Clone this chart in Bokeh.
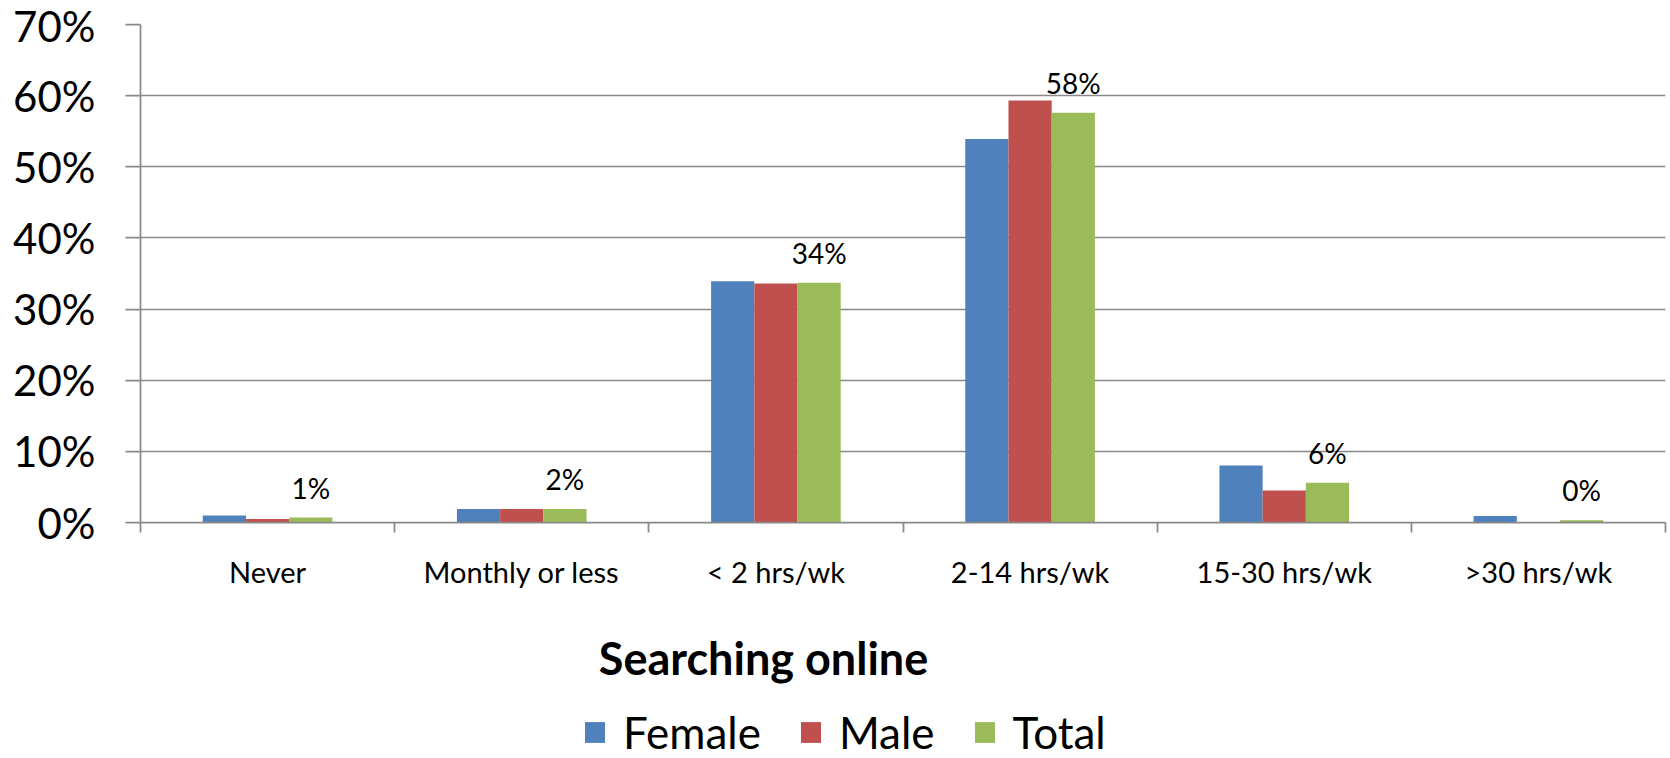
import numpy as np
from bokeh.plotting import figure
from bokeh.models import FixedTicker, NumeralTickFormatter, Legend, LegendItem, Range1d, Label
from bokeh.layouts import column
from bokeh.embed import file_html
from bokeh.resources import INLINE
from bokeh.core.properties import value

categories = ["Never", "Monthly or less", "< 2 hrs/wk", "2-14 hrs/wk", "15-30 hrs/wk", ">30 hrs/wk"]
female = [0.010, 0.019, 0.339, 0.539, 0.080, 0.009]
male = [0.005, 0.019, 0.336, 0.593, 0.045, 0.000]
total = [0.007, 0.019, 0.337, 0.576, 0.056, 0.003]
series_names = ["Female", "Male", "Total"]
series_colors = ["#4F81BD", "#C0504D", "#9BBB59"]
y_ticks = [0.0, 0.1, 0.2, 0.3, 0.4, 0.5, 0.6, 0.7]
x_title = "Searching online"

FONT = "Lato"
GRID = "#898989"
BAR_W = 0.17
W = 1670
H1 = 600
H2 = 158
LEFT = 140
RIGHT = 5

p = figure(width=W, height=H1, output_backend="svg", toolbar_location=None,
           x_range=Range1d(-0.5, len(categories) - 0.5), y_range=Range1d(0, 0.7),
           min_border_left=LEFT, min_border_right=RIGHT, min_border_top=24, min_border_bottom=H1 - 522)
p.outline_line_color = None

renderers = []
xs = list(range(len(categories)))
for k, (vals, col) in enumerate(zip([female, male, total], series_colors)):
    off = (k - 1) * BAR_W
    r = p.vbar(x=[i + off for i in xs], top=vals, width=BAR_W, fill_color=col, line_color=None)
    renderers.append(r)

# data labels for Total
p.text(x=[i + BAR_W for i in xs], y=total, text=[f"{round(v * 100):.0f}%" for v in total],
       text_align="center", text_baseline="middle", y_offset=-30,
       text_font=value(FONT), text_font_size="28px", text_color="black")

# y axis
p.yaxis.ticker = FixedTicker(ticks=y_ticks)
p.yaxis.formatter = NumeralTickFormatter(format="0%")
p.yaxis.major_tick_out = 15
p.yaxis.major_tick_in = 0
p.yaxis.minor_tick_out = 0
p.yaxis.minor_tick_in = 0
p.yaxis.major_label_standoff = 30
p.yaxis.major_label_text_font = FONT
p.yaxis.major_label_text_font_size = "42px"
p.yaxis.major_label_text_color = "black"
p.yaxis.axis_line_color = GRID
p.yaxis.axis_line_width = 1.75
p.yaxis.major_tick_line_color = GRID
p.yaxis.major_tick_line_width = 1.75

# x axis
p.xaxis.ticker = FixedTicker(ticks=xs, minor_ticks=[i - 0.5 for i in range(len(categories) + 1)])
p.xaxis.major_label_overrides = {i: c for i, c in enumerate(categories)}
p.xaxis.major_tick_out = 0
p.xaxis.major_tick_in = 0
p.xaxis.minor_tick_out = 10
p.xaxis.minor_tick_in = 0
p.xaxis.minor_tick_line_color = GRID
p.xaxis.minor_tick_line_width = 1.75
p.xaxis.axis_line_color = GRID
p.xaxis.axis_line_width = 1.75
p.xaxis.major_label_standoff = 21
p.xaxis.major_label_text_font = FONT
p.xaxis.major_label_text_font_size = "29px"
p.xaxis.major_label_text_color = "black"

p.xgrid.visible = False
p.ygrid.grid_line_color = GRID
p.ygrid.grid_line_width = 1.5
p.ygrid.ticker = FixedTicker(ticks=y_ticks)

# lower panel: axis title + legend
p2 = figure(width=W, height=H2, output_backend="svg", toolbar_location=None,
            x_range=Range1d(0, 1), y_range=Range1d(0, 1), min_border=0,
            min_border_left=LEFT, min_border_right=RIGHT)
p2.axis.visible = False
p2.grid.visible = False
p2.outline_line_color = None

p2.add_layout(Label(x=763 - LEFT, y=H2 - 57, x_units="screen", y_units="screen", text=x_title,
                    text_align="center", text_baseline="middle", text_font=FONT,
                    text_font_style="bold", text_font_size="45px", text_color="black"))

# legend swatches (no visible marks: NaN data)
dummies = [p2.vbar(x=np.array([np.nan]), top=np.array([np.nan]), width=1, fill_color=c, line_color=None)
           for c in series_colors]
legend = Legend(items=[LegendItem(label=n, renderers=[r]) for n, r in zip(series_names, dummies)],
                location=(582 - LEFT, 0), orientation="horizontal",
                glyph_width=25, glyph_height=26, label_standoff=16, spacing=37,
                padding=0, margin=0, border_line_color=None, background_fill_alpha=0,
                label_text_font=FONT, label_text_font_size="44px", label_text_color="black")
p2.add_layout(legend)

layout = column(p, p2, spacing=0)
open("out.html", "w").write(file_html(layout, INLINE))
